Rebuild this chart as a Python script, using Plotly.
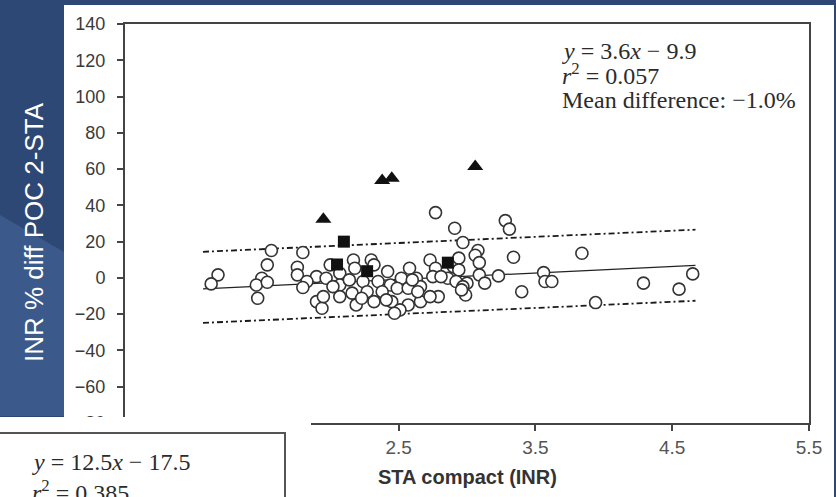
import plotly.graph_objects as go

# Canvas and plot-area geometry (pixels)
W, H = 836, 497
ML, MR, MT, MB = 125, 27, 24, 74
PW, PH = W - ML - MR, H - MT - MB


def px(x):
    """Pixel column -> paper x."""
    return (x - ML) / PW


def py(y):
    """Pixel row -> paper y."""
    return (H - MB - y) / PH


# Patients: open circles
circle_x = [1.18, 1.13, 1.57, 1.54, 1.50, 1.46, 1.54, 1.47, 1.80, 1.76, 1.76, 1.90,
            1.83, 1.80, 1.90, 1.94, 2.00, 1.97, 2.07, 2.17, 2.18, 2.30, 2.24, 2.32,
            2.35, 2.42, 2.44, 2.52, 2.58, 2.63, 2.73, 2.77, 2.75, 2.07, 2.16, 2.27,
            2.38, 2.49, 2.57, 2.66, 2.79, 2.32, 2.45, 2.57, 2.51, 1.95, 2.07, 2.19,
            2.66, 2.73, 2.86, 2.90, 2.47, 2.23, 2.77, 2.91, 2.14, 2.41, 2.60, 2.64,
            2.81, 2.02, 3.28, 3.31, 2.97, 3.34, 3.84, 3.08, 3.06, 3.09, 2.94, 2.94,
            3.09, 3.23, 3.00, 3.13, 2.92, 2.97, 2.99, 2.96, 3.56, 3.57, 3.62, 3.40,
            4.29, 4.55, 4.65, 3.94]
circle_y = [1.7, -3.3, 15.1, 7.2, -0.2, -3.9, -2.4, -11.2, 14.0, 5.9, 1.7, 0.7,
            -2.0, -5.3, -13.1, -16.7, 7.2, -0.2, 2.6, 9.9, 5.3, 9.9, -2.0, 7.2,
            -2.0, 3.5, -3.9, -0.2, 5.3, -0.2, 9.9, 5.3, 0.7, -3.9, -8.4, -7.6,
            -7.6, -5.7, -5.7, -4.8, -10.3, -13.1, -13.1, -14.9, -17.6, -10.3, -10.3, -14.9,
            -13.1, -10.3, -0.2, 6.2, -19.5, -11.2, 36.0, 27.4, -1.1, -12.1, -1.1, -7.6,
            0.7, -4.8, 31.6, 26.9, 19.5, 11.4, 13.6, 15.1, 12.5, 8.4, 10.9, 4.4,
            1.7, 1.1, -2.9, -2.9, -2.0, -4.8, -9.4, -6.6, 2.9, -2.0, -2.0, -7.6,
            -2.9, -6.2, 2.2, -13.6]

# Filled squares
square_x = [2.10, 2.05, 2.27, 2.86]
square_y = [20.0, 7.4, 3.7, 8.4]

# Filled triangles
triangle_x = [1.95, 2.38, 2.45, 3.06]
triangle_y = [32.3, 53.7, 55.0, 61.4]

# Regression y = 3.6x - 9.9 and limits of agreement
fit_slope, fit_intercept = 3.6, -9.9
line_x = [1.07, 4.67]
fit_y = [fit_slope * v + fit_intercept for v in line_x]
upper_y = [14.4, 26.6]
lower_y = [-24.8, -12.6]

y_ticks = [-80, -60, -40, -20, 0, 20, 40, 60, 80, 100, 120, 140]
x_ticks = [0.5, 1.5, 2.5, 3.5, 4.5, 5.5]
x_tick_text = ["0.5", "1.5", "2.5", "3.5", "4.5", "5.5"]

SLIDE_DARK = "#2E4875"
SLIDE_LIGHT = "#3B5A8B"
INK = "#2b2b2b"
AXIS = "#444444"
SANS = "Liberation Sans, Arial, sans-serif"
SERIF = "Liberation Serif, Times New Roman, serif"

fig = go.Figure()

dashdot = dict(color="#1a1a1a", width=1.8, dash="6px,3px,2px,3px")
fig.add_trace(go.Scatter(x=line_x, y=upper_y, mode="lines", line=dashdot, hoverinfo="skip"))
fig.add_trace(go.Scatter(x=line_x, y=lower_y, mode="lines", line=dashdot, hoverinfo="skip"))
fig.add_trace(go.Scatter(x=line_x, y=fit_y, mode="lines",
                         line=dict(color="#222222", width=1.2), hoverinfo="skip"))
fig.add_trace(go.Scatter(x=circle_x, y=circle_y, mode="markers",
                         marker=dict(symbol="circle", size=12, color="white",
                                     line=dict(color="#333333", width=1.6))))
fig.add_trace(go.Scatter(x=square_x, y=square_y, mode="markers",
                         marker=dict(symbol="square", size=12, color="#111111",
                                     line=dict(width=0))))
fig.add_trace(go.Scatter(x=triangle_x, y=triangle_y, mode="markers",
                         marker=dict(symbol="triangle-up", size=14, color="#111111",
                                     line=dict(width=0))))

shapes = [
    # lighter lower part of the left slide band
    dict(type="path", xref="paper", yref="paper", layer="below",
         path=f"M {px(0)},{py(215)} L {px(64)},{py(252)} L {px(64)},{py(416)} L {px(0)},{py(416)} Z",
         fillcolor=SLIDE_LIGHT, line=dict(width=0)),
    # white chart sheet
    dict(type="rect", xref="paper", yref="paper", layer="below",
         x0=px(64), x1=px(834), y0=py(5), y1=py(H + 5),
         fillcolor="white", line=dict(width=0)),
    # second chart sheet in the lower-left corner
    dict(type="rect", xref="paper", yref="paper", layer="above",
         x0=px(-5), x1=px(311), y0=py(417), y1=py(H + 5),
         fillcolor="white", line=dict(width=0)),
    dict(type="line", xref="paper", yref="paper", layer="above",
         x0=px(-5), x1=px(286), y0=py(433), y1=py(433),
         line=dict(color="#555555", width=2)),
    dict(type="line", xref="paper", yref="paper", layer="above",
         x0=px(285), x1=px(285), y0=py(433), y1=py(H + 5),
         line=dict(color="#555555", width=2)),
]

annotations = [
    dict(text="INR % diff POC 2-STA", x=px(34), y=py(232), xref="paper", yref="paper",
         textangle=-90, showarrow=False, xanchor="center", yanchor="middle",
         font=dict(family=SANS, size=26, color="white")),
    dict(text="<i>y</i> = 3.6<i>x</i> − 9.9", x=px(560), y=py(51), xref="paper", yref="paper",
         showarrow=False, xanchor="left", yanchor="middle",
         font=dict(family=SERIF, size=24, color=INK)),
    dict(text="<i>r</i><sup>2</sup> = 0.057", x=px(560), y=py(74), xref="paper", yref="paper",
         showarrow=False, xanchor="left", yanchor="middle",
         font=dict(family=SERIF, size=24, color=INK)),
    dict(text="Mean difference: −1.0%", x=px(560), y=py(100), xref="paper", yref="paper",
         showarrow=False, xanchor="left", yanchor="middle",
         font=dict(family=SERIF, size=24, color=INK)),
    dict(text="<i>y</i> = 12.5<i>x</i> − 17.5", x=px(30), y=py(462), xref="paper", yref="paper",
         showarrow=False, xanchor="left", yanchor="middle",
         font=dict(family=SERIF, size=24, color=INK)),
    dict(text="<i>r</i><sup>2</sup> = 0.385", x=px(30), y=py(491), xref="paper", yref="paper",
         showarrow=False, xanchor="left", yanchor="middle",
         font=dict(family=SERIF, size=24, color=INK)),
    dict(text="<b>STA compact (INR)</b>", x=0.5, y=py(477), xref="paper", yref="paper",
         showarrow=False, xanchor="center", yanchor="middle",
         font=dict(family=SANS, size=20, color="#333333")),
]

fig.update_layout(
    width=W, height=H,
    margin=dict(l=ML, r=MR, t=MT, b=MB, pad=0),
    paper_bgcolor=SLIDE_DARK,
    plot_bgcolor="white",
    showlegend=False,
    shapes=shapes,
    annotations=annotations,
    xaxis=dict(range=[0.5, 5.5], tickvals=x_ticks, ticktext=x_tick_text,
               showgrid=False, zeroline=False, showline=True, mirror=True,
               linecolor=AXIS, linewidth=2, ticks="outside", ticklen=6,
               tickwidth=1.5, tickcolor=AXIS, ticklabelstandoff=0,
               tickfont=dict(family=SANS, size=19, color="#555555")),
    yaxis=dict(range=[-80, 140], tickvals=y_ticks,
               showgrid=False, zeroline=False, showline=True, mirror=True,
               linecolor=AXIS, linewidth=2, ticks="outside", ticklen=6,
               tickwidth=1.5, tickcolor=AXIS, ticklabelstandoff=8,
               tickfont=dict(family=SANS, size=18, color="#3a3a3a")),
)

fig.write_html("out.html")
